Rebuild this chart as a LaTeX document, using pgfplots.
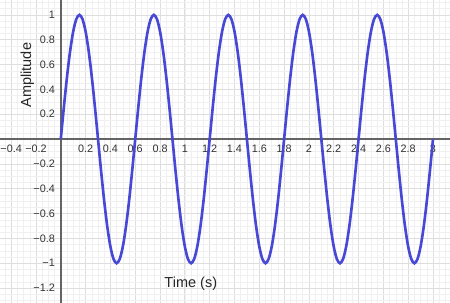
\documentclass[border=0pt]{standalone}
\usepackage{fontspec}
\setmainfont{Liberation Sans}
\usepackage{pgfplots}
\pgfplotsset{compat=1.18}
\definecolor{curve}{RGB}{72,72,214}
\definecolor{majgrid}{RGB}{222,222,222}
\definecolor{mingrid}{RGB}{240,240,240}
\definecolor{axisgray}{RGB}{100,100,100}
\begin{document}
\begin{tikzpicture}
\begin{axis}[
  scale only axis,
  width=12cm, height=8.08cm,
  xmin=-0.49, xmax=3.137, ymin=-1.32, ymax=1.12,
  axis lines=middle,
  axis line style={-, draw=axisgray, line width=1.1pt},
  xtick={-0.4,-0.2,0.2,0.4,0.6,0.8,1,1.2,1.4,1.6,1.8,2,2.2,2.4,2.6,2.8,3},
  xticklabels={−0.4,−0.2,0.2,0.4,0.6,0.8,1,1.2,1.4,1.6,1.8,2,2.2,2.4,2.6,2.8,3},
  ytick={-1.2,-1,-0.8,-0.6,-0.4,-0.2,0.2,0.4,0.6,0.8,1},
  yticklabels={−1.2,−1,−0.8,−0.6,−0.4,−0.2,0.2,0.4,0.6,0.8,1},
  minor xtick={-0.45,-0.4,...,3.15},
  minor ytick={-1.3,-1.25,...,1.15},
  grid=both,
  major grid style={draw=majgrid, line width=0.6pt},
  minor grid style={draw=mingrid, line width=0.4pt},
  major tick length=0pt, minor tick length=0pt,
  tick label style={font=\fontsize{8.2}{9}\selectfont, text=black!80},
  xticklabel style={anchor=north, yshift=-1pt},
  yticklabel style={anchor=east, xshift=-1pt},
  xlabel={Time (s)},
  ylabel={Amplitude},
  xlabel style={at={(axis description cs:0.424,0.063)}, anchor=center, font=\fontsize{11}{12}\selectfont, text=black!85},
  ylabel style={at={(axis description cs:0.061,0.752)}, anchor=center, rotate=90, font=\fontsize{11}{12}\selectfont, text=black!85},
]
\addplot[curve, line width=2pt, smooth] coordinates {
(0,0)(0.025,0.2588)(0.05,0.5)(0.075,0.7071)(0.1,0.866)(0.125,0.9659)(0.15,1)(0.175,0.9659)(0.2,0.866)(0.225,0.7071)(0.25,0.5)(0.275,0.2588)(0.3,0)(0.325,-0.2588)(0.35,-0.5)(0.375,-0.7071)(0.4,-0.866)(0.425,-0.9659)(0.45,-1)(0.475,-0.9659)(0.5,-0.866)(0.525,-0.7071)(0.55,-0.5)(0.575,-0.2588)
(0.6,0)(0.625,0.2588)(0.65,0.5)(0.675,0.7071)(0.7,0.866)(0.725,0.9659)(0.75,1)(0.775,0.9659)(0.8,0.866)(0.825,0.7071)(0.85,0.5)(0.875,0.2588)(0.9,0)(0.925,-0.2588)(0.95,-0.5)(0.975,-0.7071)(1,-0.866)(1.025,-0.9659)(1.05,-1)(1.075,-0.9659)(1.1,-0.866)(1.125,-0.7071)(1.15,-0.5)(1.175,-0.2588)
(1.2,0)(1.225,0.2588)(1.25,0.5)(1.275,0.7071)(1.3,0.866)(1.325,0.9659)(1.35,1)(1.375,0.9659)(1.4,0.866)(1.425,0.7071)(1.45,0.5)(1.475,0.2588)(1.5,0)(1.525,-0.2588)(1.55,-0.5)(1.575,-0.7071)(1.6,-0.866)(1.625,-0.9659)(1.65,-1)(1.675,-0.9659)(1.7,-0.866)(1.725,-0.7071)(1.75,-0.5)(1.775,-0.2588)
(1.8,0)(1.825,0.2588)(1.85,0.5)(1.875,0.7071)(1.9,0.866)(1.925,0.9659)(1.95,1)(1.975,0.9659)(2,0.866)(2.025,0.7071)(2.05,0.5)(2.075,0.2588)(2.1,0)(2.125,-0.2588)(2.15,-0.5)(2.175,-0.7071)(2.2,-0.866)(2.225,-0.9659)(2.25,-1)(2.275,-0.9659)(2.3,-0.866)(2.325,-0.7071)(2.35,-0.5)(2.375,-0.2588)
(2.4,0)(2.425,0.2588)(2.45,0.5)(2.475,0.7071)(2.5,0.866)(2.525,0.9659)(2.55,1)(2.575,0.9659)(2.6,0.866)(2.625,0.7071)(2.65,0.5)(2.675,0.2588)(2.7,0)(2.725,-0.2588)(2.75,-0.5)(2.775,-0.7071)(2.8,-0.866)(2.825,-0.9659)(2.85,-1)(2.875,-0.9659)(2.9,-0.866)(2.925,-0.7071)(2.95,-0.5)(2.975,-0.2588)
(3,0)
};
\end{axis}
\pgfresetboundingbox
\useasboundingbox (current axis.south west) rectangle (current axis.north east);
\end{tikzpicture}
\end{document}
